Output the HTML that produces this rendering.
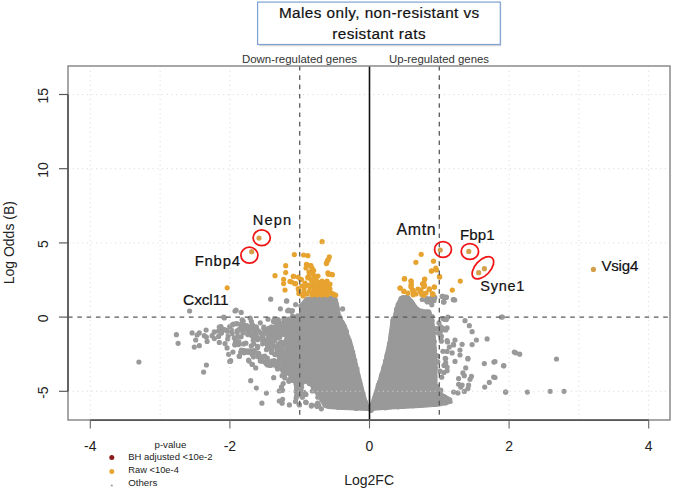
<!DOCTYPE html>
<html><head><meta charset="utf-8"><style>
html,body{margin:0;padding:0;background:#fff;}
body{width:675px;height:490px;overflow:hidden;}
svg{display:block;}
text{font-family:"Liberation Sans",sans-serif;}
</style></head><body>
<svg width="675" height="490" viewBox="0 0 675 490">
<path d="M299.5,305.0 L305.8,297.3 L320.0,296.6 L336.5,296.8 L338.9,305.8 L340.1,313.2 L342.6,319.3 L346.3,325.4 L348.7,334.0 L351.3,340.0 L353.8,349.8 L357.0,362.9 L360.3,375.9 L363.6,389.0 L366.6,400.4 L369.0,406.0 L369.3,410.5 L345.0,409.6 L327.7,408.5 L323.7,407.0 L318.8,398.0 L312.7,390.6 L309.0,383.3 L299.5,383.3 Z" fill="#999999" stroke="#999999" stroke-width="1" stroke-linejoin="round"/>
<path d="M397.4,301.6 L400.6,296.4 L408.3,295.0 L413.5,301.3 L417.2,306.5 L421.0,309.5 L428.0,310.0 L430.6,310.5 L431.7,314.0 L433.7,319.2 L435.8,342.0 L437.0,365.4 L437.0,384.2 L442.9,393.6 L451.1,398.3 L452.3,403.0 L439.3,406.1 L420.0,407.5 L392.5,408.9 L369.3,410.5 L369.6,406.0 L371.6,400.4 L373.3,395.1 L378.8,378.6 L384.3,359.3 L388.4,340.0 L391.2,319.2 L393.3,316.1 L394.9,308.9 Z" fill="#999999" stroke="#999999" stroke-width="1" stroke-linejoin="round"/>
<path d="M286.0,321.0 L294.0,318.0 L300.0,316.0 L300.0,383.0 L295.0,383.0 L288.0,375.0 L284.0,371.0 Z" fill="#999999" stroke="#999999" stroke-width="1" stroke-linejoin="round"/>
<g fill="#999999"><circle cx="250.2" cy="318.2" r="2.6"/><circle cx="295.4" cy="356.3" r="2.6"/><circle cx="297.9" cy="316.5" r="2.6"/><circle cx="237.5" cy="323.8" r="2.6"/><circle cx="268.2" cy="340.9" r="2.6"/><circle cx="273.5" cy="331.3" r="2.6"/><circle cx="278.6" cy="324.4" r="2.6"/><circle cx="279.3" cy="356.0" r="2.6"/><circle cx="264.3" cy="356.5" r="2.6"/><circle cx="284.3" cy="334.3" r="2.6"/><circle cx="252.6" cy="325.6" r="2.6"/><circle cx="288.7" cy="319.0" r="2.6"/><circle cx="263.8" cy="332.7" r="2.6"/><circle cx="295.9" cy="364.8" r="2.6"/><circle cx="266.3" cy="363.7" r="2.6"/><circle cx="291.2" cy="371.5" r="2.6"/><circle cx="282.2" cy="342.4" r="2.6"/><circle cx="288.9" cy="359.1" r="2.6"/><circle cx="299.4" cy="347.9" r="2.6"/><circle cx="295.7" cy="352.6" r="2.6"/><circle cx="288.0" cy="365.2" r="2.6"/><circle cx="298.7" cy="376.9" r="2.6"/><circle cx="284.0" cy="368.5" r="2.6"/><circle cx="257.6" cy="339.7" r="2.6"/><circle cx="298.9" cy="384.6" r="2.6"/><circle cx="231.4" cy="330.0" r="2.6"/><circle cx="291.2" cy="376.0" r="2.6"/><circle cx="292.1" cy="371.7" r="2.6"/><circle cx="297.5" cy="342.7" r="2.6"/><circle cx="295.3" cy="367.4" r="2.6"/><circle cx="283.0" cy="324.0" r="2.6"/><circle cx="298.3" cy="362.3" r="2.6"/><circle cx="260.3" cy="322.8" r="2.6"/><circle cx="297.4" cy="361.7" r="2.6"/><circle cx="294.2" cy="345.5" r="2.6"/><circle cx="284.7" cy="328.8" r="2.6"/><circle cx="234.8" cy="344.4" r="2.6"/><circle cx="292.1" cy="339.5" r="2.6"/><circle cx="256.1" cy="352.9" r="2.6"/><circle cx="282.3" cy="325.9" r="2.6"/><circle cx="275.8" cy="354.7" r="2.6"/><circle cx="292.3" cy="346.2" r="2.6"/><circle cx="251.8" cy="353.0" r="2.6"/><circle cx="294.9" cy="365.4" r="2.6"/><circle cx="294.9" cy="332.5" r="2.6"/><circle cx="295.0" cy="376.0" r="2.6"/><circle cx="218.4" cy="331.0" r="2.6"/><circle cx="290.9" cy="324.6" r="2.6"/><circle cx="297.1" cy="329.5" r="2.6"/><circle cx="285.3" cy="325.1" r="2.6"/><circle cx="257.4" cy="338.4" r="2.6"/><circle cx="298.7" cy="372.1" r="2.6"/><circle cx="221.2" cy="332.9" r="2.6"/><circle cx="280.6" cy="333.3" r="2.6"/><circle cx="284.1" cy="332.4" r="2.6"/><circle cx="292.9" cy="355.8" r="2.6"/><circle cx="272.6" cy="344.9" r="2.6"/><circle cx="294.6" cy="360.6" r="2.6"/><circle cx="293.5" cy="333.1" r="2.6"/><circle cx="258.4" cy="330.9" r="2.6"/><circle cx="278.8" cy="334.7" r="2.6"/><circle cx="227.7" cy="339.0" r="2.6"/><circle cx="276.5" cy="354.3" r="2.6"/><circle cx="298.5" cy="338.7" r="2.6"/><circle cx="274.2" cy="360.7" r="2.6"/><circle cx="277.2" cy="332.2" r="2.6"/><circle cx="288.6" cy="363.3" r="2.6"/><circle cx="297.6" cy="354.0" r="2.6"/><circle cx="297.0" cy="336.2" r="2.6"/><circle cx="253.8" cy="350.7" r="2.6"/><circle cx="289.4" cy="342.2" r="2.6"/><circle cx="298.7" cy="324.2" r="2.6"/><circle cx="283.5" cy="323.4" r="2.6"/><circle cx="272.1" cy="365.0" r="2.6"/><circle cx="261.2" cy="360.1" r="2.6"/><circle cx="271.9" cy="349.7" r="2.6"/><circle cx="282.2" cy="369.1" r="2.6"/><circle cx="297.9" cy="350.0" r="2.6"/><circle cx="279.5" cy="359.3" r="2.6"/><circle cx="277.4" cy="335.8" r="2.6"/><circle cx="272.9" cy="363.7" r="2.6"/><circle cx="257.5" cy="347.8" r="2.6"/><circle cx="297.2" cy="346.7" r="2.6"/><circle cx="295.8" cy="322.9" r="2.6"/><circle cx="251.7" cy="335.6" r="2.6"/><circle cx="285.8" cy="322.0" r="2.6"/><circle cx="299.9" cy="357.2" r="2.6"/><circle cx="249.7" cy="333.6" r="2.6"/><circle cx="289.8" cy="373.9" r="2.6"/><circle cx="268.7" cy="334.5" r="2.6"/><circle cx="293.6" cy="322.5" r="2.6"/><circle cx="297.9" cy="332.5" r="2.6"/><circle cx="246.7" cy="325.5" r="2.6"/><circle cx="299.7" cy="346.7" r="2.6"/><circle cx="242.1" cy="319.8" r="2.6"/><circle cx="290.1" cy="369.2" r="2.6"/><circle cx="248.4" cy="352.3" r="2.6"/><circle cx="253.6" cy="357.0" r="2.6"/><circle cx="297.6" cy="331.6" r="2.6"/><circle cx="275.5" cy="361.6" r="2.6"/><circle cx="252.2" cy="354.4" r="2.6"/><circle cx="280.8" cy="330.4" r="2.6"/><circle cx="268.8" cy="335.8" r="2.6"/><circle cx="273.5" cy="321.4" r="2.6"/><circle cx="258.2" cy="356.7" r="2.6"/><circle cx="253.8" cy="330.6" r="2.6"/><circle cx="296.5" cy="365.8" r="2.6"/><circle cx="271.4" cy="344.5" r="2.6"/><circle cx="277.0" cy="350.9" r="2.6"/><circle cx="297.3" cy="336.4" r="2.6"/><circle cx="255.6" cy="327.0" r="2.6"/><circle cx="295.5" cy="324.0" r="2.6"/><circle cx="291.0" cy="379.3" r="2.6"/><circle cx="299.8" cy="382.9" r="2.6"/><circle cx="270.5" cy="341.4" r="2.6"/><circle cx="241.2" cy="325.7" r="2.6"/><circle cx="284.3" cy="345.4" r="2.6"/><circle cx="283.4" cy="370.5" r="2.6"/><circle cx="293.0" cy="332.3" r="2.6"/><circle cx="291.1" cy="338.4" r="2.6"/><circle cx="296.3" cy="359.3" r="2.6"/><circle cx="275.1" cy="336.7" r="2.6"/><circle cx="292.6" cy="360.5" r="2.6"/><circle cx="296.2" cy="384.5" r="2.6"/><circle cx="293.7" cy="326.7" r="2.6"/><circle cx="280.0" cy="358.5" r="2.6"/><circle cx="274.5" cy="346.5" r="2.6"/><circle cx="286.5" cy="362.8" r="2.6"/><circle cx="286.0" cy="335.0" r="2.6"/><circle cx="262.9" cy="337.5" r="2.6"/><circle cx="299.3" cy="351.0" r="2.6"/><circle cx="283.1" cy="362.0" r="2.6"/><circle cx="292.5" cy="316.0" r="2.6"/><circle cx="295.2" cy="320.9" r="2.6"/><circle cx="266.6" cy="329.3" r="2.6"/><circle cx="264.7" cy="361.9" r="2.6"/><circle cx="271.7" cy="326.9" r="2.6"/><circle cx="260.4" cy="360.9" r="2.6"/><circle cx="248.1" cy="334.2" r="2.6"/><circle cx="295.9" cy="336.4" r="2.6"/><circle cx="299.7" cy="340.3" r="2.6"/><circle cx="276.1" cy="328.3" r="2.6"/><circle cx="291.3" cy="344.8" r="2.6"/><circle cx="252.6" cy="325.2" r="2.6"/><circle cx="244.6" cy="350.8" r="2.6"/><circle cx="293.4" cy="321.2" r="2.6"/><circle cx="297.8" cy="349.2" r="2.6"/><circle cx="293.5" cy="342.1" r="2.6"/><circle cx="285.0" cy="326.7" r="2.6"/><circle cx="247.2" cy="351.8" r="2.6"/><circle cx="260.4" cy="360.0" r="2.6"/><circle cx="251.3" cy="345.9" r="2.6"/><circle cx="266.5" cy="349.7" r="2.6"/><circle cx="252.3" cy="326.5" r="2.6"/><circle cx="268.0" cy="319.2" r="2.6"/><circle cx="280.4" cy="351.4" r="2.6"/><circle cx="299.7" cy="367.9" r="2.6"/><circle cx="292.6" cy="325.4" r="2.6"/><circle cx="293.9" cy="317.9" r="2.6"/><circle cx="278.5" cy="324.9" r="2.6"/><circle cx="293.0" cy="328.6" r="2.6"/><circle cx="256.5" cy="336.9" r="2.6"/><circle cx="298.6" cy="356.9" r="2.6"/><circle cx="243.2" cy="321.0" r="2.6"/><circle cx="263.8" cy="328.3" r="2.6"/><circle cx="233.4" cy="324.2" r="2.6"/><circle cx="280.8" cy="343.1" r="2.6"/><circle cx="261.5" cy="339.3" r="2.6"/><circle cx="276.5" cy="331.6" r="2.6"/><circle cx="247.7" cy="330.8" r="2.6"/><circle cx="283.6" cy="326.1" r="2.6"/><circle cx="290.3" cy="371.7" r="2.6"/><circle cx="277.6" cy="347.9" r="2.6"/><circle cx="251.8" cy="329.9" r="2.6"/><circle cx="274.6" cy="332.9" r="2.6"/><circle cx="296.9" cy="329.3" r="2.6"/><circle cx="277.7" cy="337.5" r="2.6"/><circle cx="267.5" cy="365.0" r="2.6"/><circle cx="298.2" cy="348.2" r="2.6"/><circle cx="262.2" cy="336.1" r="2.6"/><circle cx="242.3" cy="323.6" r="2.6"/><circle cx="221.4" cy="328.4" r="2.6"/><circle cx="283.5" cy="360.6" r="2.6"/><circle cx="267.6" cy="334.6" r="2.6"/><circle cx="275.0" cy="340.6" r="2.6"/><circle cx="296.8" cy="350.8" r="2.6"/><circle cx="267.3" cy="339.7" r="2.6"/><circle cx="291.3" cy="350.6" r="2.6"/><circle cx="289.8" cy="330.5" r="2.6"/><circle cx="278.3" cy="361.5" r="2.6"/><circle cx="280.1" cy="356.4" r="2.6"/><circle cx="240.7" cy="352.2" r="2.6"/><circle cx="298.6" cy="372.6" r="2.6"/><circle cx="281.6" cy="365.0" r="2.6"/><circle cx="267.6" cy="347.7" r="2.6"/><circle cx="291.9" cy="345.3" r="2.6"/><circle cx="277.9" cy="344.6" r="2.6"/><circle cx="280.1" cy="365.5" r="2.6"/><circle cx="271.8" cy="361.1" r="2.6"/><circle cx="280.8" cy="366.5" r="2.6"/><circle cx="266.7" cy="343.7" r="2.6"/><circle cx="293.9" cy="326.7" r="2.6"/><circle cx="280.5" cy="342.2" r="2.6"/><circle cx="297.8" cy="315.9" r="2.6"/><circle cx="294.8" cy="351.9" r="2.6"/><circle cx="285.0" cy="352.1" r="2.6"/><circle cx="295.4" cy="328.8" r="2.6"/><circle cx="236.1" cy="343.0" r="2.6"/><circle cx="243.0" cy="332.9" r="2.6"/><circle cx="246.5" cy="328.9" r="2.6"/><circle cx="267.8" cy="348.2" r="2.6"/><circle cx="235.5" cy="341.2" r="2.6"/><circle cx="249.5" cy="326.9" r="2.6"/><circle cx="275.5" cy="334.1" r="2.6"/><circle cx="268.1" cy="362.4" r="2.6"/><circle cx="293.7" cy="377.1" r="2.6"/><circle cx="281.0" cy="323.5" r="2.6"/><circle cx="269.7" cy="331.8" r="2.6"/><circle cx="281.7" cy="325.6" r="2.6"/><circle cx="260.8" cy="332.8" r="2.6"/><circle cx="286.0" cy="341.1" r="2.6"/><circle cx="296.5" cy="318.7" r="2.6"/><circle cx="279.8" cy="328.8" r="2.6"/><circle cx="247.5" cy="350.8" r="2.6"/><circle cx="241.1" cy="336.8" r="2.6"/><circle cx="289.9" cy="353.9" r="2.6"/><circle cx="292.1" cy="358.9" r="2.6"/><circle cx="220.9" cy="326.6" r="2.6"/><circle cx="281.2" cy="355.2" r="2.6"/><circle cx="238.6" cy="344.6" r="2.6"/><circle cx="294.2" cy="317.1" r="2.6"/><circle cx="283.3" cy="356.1" r="2.6"/><circle cx="253.8" cy="343.9" r="2.6"/><circle cx="268.7" cy="328.9" r="2.6"/><circle cx="275.3" cy="331.2" r="2.6"/><circle cx="280.1" cy="366.5" r="2.6"/><circle cx="276.2" cy="319.3" r="2.6"/><circle cx="283.9" cy="319.0" r="2.6"/><circle cx="276.2" cy="325.4" r="2.6"/><circle cx="267.4" cy="344.3" r="2.6"/><circle cx="281.0" cy="355.5" r="2.6"/><circle cx="298.0" cy="375.3" r="2.6"/><circle cx="283.1" cy="334.2" r="2.6"/><circle cx="283.0" cy="364.3" r="2.6"/><circle cx="282.2" cy="328.0" r="2.6"/><circle cx="294.0" cy="330.6" r="2.6"/><circle cx="271.6" cy="347.9" r="2.6"/><circle cx="281.7" cy="347.5" r="2.6"/><circle cx="283.0" cy="370.9" r="2.6"/><circle cx="289.9" cy="352.1" r="2.6"/><circle cx="263.9" cy="327.2" r="2.6"/><circle cx="247.4" cy="351.8" r="2.6"/><circle cx="281.3" cy="324.7" r="2.6"/><circle cx="242.4" cy="352.0" r="2.6"/><circle cx="288.2" cy="349.5" r="2.6"/><circle cx="296.8" cy="332.0" r="2.6"/><circle cx="229.7" cy="326.6" r="2.6"/><circle cx="288.6" cy="347.4" r="2.6"/><circle cx="292.1" cy="317.8" r="2.6"/><circle cx="270.9" cy="342.5" r="2.6"/><circle cx="299.3" cy="329.6" r="2.6"/><circle cx="291.6" cy="375.8" r="2.6"/><circle cx="281.2" cy="366.2" r="2.6"/><circle cx="298.7" cy="317.2" r="2.6"/><circle cx="271.6" cy="335.4" r="2.6"/><circle cx="278.7" cy="320.9" r="2.6"/><circle cx="226.8" cy="330.9" r="2.6"/><circle cx="275.1" cy="327.6" r="2.6"/><circle cx="293.6" cy="329.5" r="2.6"/><circle cx="286.1" cy="360.1" r="2.6"/><circle cx="224.6" cy="329.6" r="2.6"/><circle cx="274.8" cy="354.5" r="2.6"/><circle cx="288.6" cy="333.0" r="2.6"/><circle cx="270.8" cy="328.8" r="2.6"/><circle cx="237.2" cy="332.3" r="2.6"/><circle cx="299.8" cy="382.4" r="2.6"/><circle cx="242.0" cy="323.5" r="2.6"/><circle cx="285.2" cy="352.5" r="2.6"/><circle cx="274.6" cy="327.8" r="2.6"/><circle cx="255.6" cy="333.5" r="2.6"/><circle cx="283.4" cy="356.7" r="2.6"/><circle cx="288.1" cy="350.0" r="2.6"/><circle cx="292.1" cy="348.7" r="2.6"/><circle cx="244.3" cy="325.3" r="2.6"/><circle cx="257.7" cy="346.4" r="2.6"/><circle cx="296.0" cy="350.1" r="2.6"/><circle cx="258.7" cy="353.3" r="2.6"/><circle cx="297.1" cy="329.8" r="2.6"/><circle cx="273.5" cy="327.6" r="2.6"/><circle cx="264.7" cy="356.2" r="2.6"/><circle cx="256.1" cy="334.0" r="2.6"/><circle cx="287.8" cy="324.0" r="2.6"/><circle cx="277.7" cy="325.3" r="2.6"/><circle cx="294.5" cy="342.2" r="2.6"/><circle cx="285.9" cy="352.4" r="2.6"/><circle cx="294.8" cy="371.3" r="2.6"/><circle cx="298.3" cy="373.3" r="2.6"/><circle cx="296.3" cy="383.1" r="2.6"/><circle cx="244.1" cy="352.8" r="2.6"/><circle cx="250.1" cy="350.9" r="2.6"/><circle cx="289.8" cy="379.3" r="2.6"/><circle cx="268.5" cy="332.9" r="2.6"/><circle cx="293.3" cy="359.6" r="2.6"/><circle cx="296.1" cy="351.5" r="2.6"/><circle cx="253.0" cy="353.0" r="2.6"/><circle cx="247.8" cy="334.6" r="2.6"/><circle cx="285.9" cy="358.7" r="2.6"/><circle cx="269.2" cy="328.1" r="2.6"/><circle cx="253.3" cy="336.3" r="2.6"/><circle cx="287.8" cy="330.9" r="2.6"/><circle cx="288.7" cy="346.0" r="2.6"/><circle cx="277.0" cy="324.6" r="2.6"/><circle cx="284.3" cy="351.8" r="2.6"/><circle cx="288.8" cy="358.6" r="2.6"/><circle cx="286.8" cy="350.5" r="2.6"/><circle cx="228.2" cy="335.8" r="2.6"/><circle cx="262.6" cy="356.6" r="2.6"/><circle cx="293.0" cy="337.3" r="2.6"/><circle cx="271.5" cy="352.4" r="2.6"/><circle cx="296.9" cy="349.5" r="2.6"/><circle cx="284.7" cy="351.4" r="2.6"/><circle cx="290.7" cy="364.7" r="2.6"/><circle cx="299.1" cy="379.6" r="2.6"/><circle cx="256.4" cy="327.1" r="2.6"/><circle cx="267.4" cy="358.2" r="2.6"/><circle cx="299.4" cy="360.7" r="2.6"/><circle cx="286.1" cy="357.0" r="2.6"/><circle cx="262.6" cy="343.8" r="2.6"/><circle cx="284.4" cy="359.0" r="2.6"/><circle cx="279.8" cy="337.2" r="2.6"/><circle cx="243.1" cy="325.7" r="2.6"/><circle cx="263.2" cy="339.2" r="2.6"/><circle cx="290.4" cy="356.7" r="2.6"/><circle cx="293.9" cy="377.1" r="2.6"/><circle cx="291.1" cy="374.2" r="2.6"/><circle cx="245.9" cy="343.2" r="2.6"/><circle cx="242.9" cy="331.4" r="2.6"/><circle cx="237.0" cy="330.8" r="2.6"/><circle cx="270.5" cy="338.6" r="2.6"/><circle cx="274.1" cy="319.9" r="2.6"/><circle cx="285.5" cy="322.6" r="2.6"/><circle cx="285.6" cy="373.4" r="2.6"/><circle cx="256.4" cy="330.0" r="2.6"/><circle cx="263.7" cy="340.6" r="2.6"/><circle cx="262.0" cy="336.3" r="2.6"/><circle cx="243.8" cy="350.5" r="2.6"/><circle cx="287.8" cy="322.9" r="2.6"/><circle cx="270.4" cy="339.4" r="2.6"/><circle cx="270.0" cy="365.4" r="2.6"/><circle cx="286.5" cy="339.4" r="2.6"/><circle cx="276.6" cy="366.4" r="2.6"/><circle cx="238.7" cy="341.6" r="2.6"/><circle cx="285.4" cy="371.2" r="2.6"/><circle cx="278.0" cy="319.5" r="2.6"/><circle cx="284.9" cy="334.1" r="2.6"/><circle cx="295.3" cy="344.8" r="2.6"/><circle cx="285.0" cy="360.1" r="2.6"/><circle cx="282.9" cy="332.6" r="2.6"/><circle cx="297.3" cy="360.8" r="2.6"/><circle cx="243.5" cy="343.9" r="2.6"/><circle cx="271.0" cy="330.8" r="2.6"/><circle cx="285.1" cy="321.6" r="2.6"/><circle cx="243.7" cy="328.5" r="2.6"/><circle cx="251.4" cy="321.5" r="2.6"/><circle cx="253.2" cy="340.2" r="2.6"/></g>
<g fill="#999999"><circle cx="300.8" cy="305.8" r="2.6"/><circle cx="306.0" cy="301.8" r="2.6"/><circle cx="306.1" cy="301.5" r="2.6"/><circle cx="309.4" cy="299.8" r="2.6"/><circle cx="309.9" cy="299.6" r="2.6"/><circle cx="314.5" cy="298.8" r="2.6"/><circle cx="318.5" cy="298.2" r="2.6"/><circle cx="323.0" cy="299.4" r="2.6"/><circle cx="325.3" cy="300.0" r="2.6"/><circle cx="328.7" cy="298.7" r="2.6"/><circle cx="330.7" cy="298.5" r="2.6"/><circle cx="333.3" cy="299.8" r="2.6"/><circle cx="335.5" cy="301.1" r="2.6"/><circle cx="335.2" cy="302.9" r="2.6"/><circle cx="336.1" cy="309.5" r="2.6"/><circle cx="336.6" cy="310.6" r="2.6"/><circle cx="338.4" cy="316.9" r="2.6"/><circle cx="340.0" cy="318.0" r="2.6"/><circle cx="342.3" cy="322.9" r="2.6"/><circle cx="342.9" cy="324.8" r="2.6"/><circle cx="343.7" cy="327.8" r="2.6"/><circle cx="346.3" cy="331.2" r="2.6"/><circle cx="346.9" cy="336.8" r="2.6"/><circle cx="348.4" cy="340.6" r="2.6"/><circle cx="348.8" cy="343.8" r="2.6"/><circle cx="350.1" cy="345.5" r="2.6"/><circle cx="351.1" cy="347.6" r="2.6"/><circle cx="352.7" cy="352.1" r="2.6"/><circle cx="353.4" cy="355.8" r="2.6"/><circle cx="352.4" cy="358.6" r="2.6"/><circle cx="354.7" cy="360.3" r="2.6"/><circle cx="355.5" cy="364.8" r="2.6"/><circle cx="357.0" cy="368.9" r="2.6"/><circle cx="356.2" cy="372.9" r="2.6"/><circle cx="357.8" cy="375.8" r="2.6"/><circle cx="357.8" cy="377.5" r="2.6"/><circle cx="359.3" cy="381.4" r="2.6"/><circle cx="359.9" cy="384.1" r="2.6"/><circle cx="360.3" cy="388.7" r="2.6"/><circle cx="362.7" cy="392.9" r="2.6"/><circle cx="362.6" cy="394.5" r="2.6"/><circle cx="364.0" cy="399.3" r="2.6"/><circle cx="365.5" cy="402.2" r="2.6"/><circle cx="366.7" cy="407.6" r="2.6"/><circle cx="366.1" cy="407.1" r="2.6"/><circle cx="363.0" cy="406.8" r="2.6"/><circle cx="359.1" cy="407.4" r="2.6"/><circle cx="356.1" cy="408.4" r="2.6"/><circle cx="353.2" cy="407.2" r="2.6"/><circle cx="351.0" cy="407.2" r="2.6"/><circle cx="345.3" cy="407.1" r="2.6"/><circle cx="342.9" cy="407.4" r="2.6"/><circle cx="340.6" cy="406.0" r="2.6"/><circle cx="338.1" cy="407.3" r="2.6"/><circle cx="332.4" cy="406.4" r="2.6"/><circle cx="331.0" cy="405.9" r="2.6"/><circle cx="327.1" cy="405.4" r="2.6"/><circle cx="325.3" cy="404.5" r="2.6"/><circle cx="323.2" cy="401.2" r="2.6"/><circle cx="321.9" cy="399.8" r="2.6"/><circle cx="318.1" cy="393.1" r="2.6"/><circle cx="317.9" cy="391.8" r="2.6"/><circle cx="313.7" cy="388.9" r="2.6"/><circle cx="311.7" cy="384.1" r="2.6"/><circle cx="306.7" cy="380.7" r="2.6"/><circle cx="303.2" cy="380.7" r="2.6"/><circle cx="302.0" cy="382.9" r="2.6"/><circle cx="301.2" cy="378.1" r="2.6"/><circle cx="301.1" cy="375.4" r="2.6"/><circle cx="302.7" cy="372.1" r="2.6"/><circle cx="302.4" cy="368.5" r="2.6"/><circle cx="301.2" cy="364.5" r="2.6"/><circle cx="302.4" cy="360.5" r="2.6"/><circle cx="302.7" cy="360.1" r="2.6"/><circle cx="301.3" cy="355.9" r="2.6"/><circle cx="302.1" cy="350.8" r="2.6"/><circle cx="301.3" cy="348.1" r="2.6"/><circle cx="301.1" cy="344.9" r="2.6"/><circle cx="301.7" cy="343.4" r="2.6"/><circle cx="302.2" cy="340.8" r="2.6"/><circle cx="301.6" cy="336.9" r="2.6"/><circle cx="301.9" cy="332.1" r="2.6"/><circle cx="302.2" cy="328.2" r="2.6"/><circle cx="302.1" cy="325.0" r="2.6"/><circle cx="302.7" cy="321.6" r="2.6"/><circle cx="302.5" cy="320.8" r="2.6"/><circle cx="302.5" cy="316.9" r="2.6"/><circle cx="302.7" cy="312.6" r="2.6"/><circle cx="301.7" cy="311.1" r="2.6"/><circle cx="302.9" cy="305.9" r="2.6"/></g>
<g fill="#999999"><circle cx="401.1" cy="298.7" r="2.6"/><circle cx="403.2" cy="297.6" r="2.6"/><circle cx="407.1" cy="298.4" r="2.6"/><circle cx="406.0" cy="297.5" r="2.6"/><circle cx="411.1" cy="301.6" r="2.6"/><circle cx="412.3" cy="303.7" r="2.6"/><circle cx="418.7" cy="311.1" r="2.6"/><circle cx="421.3" cy="311.1" r="2.6"/><circle cx="424.7" cy="312.9" r="2.6"/><circle cx="428.3" cy="311.9" r="2.6"/><circle cx="429.6" cy="316.5" r="2.6"/><circle cx="432.0" cy="320.6" r="2.6"/><circle cx="431.7" cy="325.5" r="2.6"/><circle cx="431.4" cy="328.2" r="2.6"/><circle cx="433.4" cy="332.2" r="2.6"/><circle cx="433.2" cy="333.5" r="2.6"/><circle cx="432.1" cy="337.4" r="2.6"/><circle cx="434.2" cy="341.5" r="2.6"/><circle cx="432.7" cy="342.8" r="2.6"/><circle cx="433.8" cy="347.7" r="2.6"/><circle cx="434.4" cy="350.4" r="2.6"/><circle cx="434.2" cy="355.0" r="2.6"/><circle cx="433.9" cy="358.4" r="2.6"/><circle cx="434.5" cy="359.1" r="2.6"/><circle cx="433.6" cy="362.9" r="2.6"/><circle cx="435.4" cy="367.6" r="2.6"/><circle cx="434.8" cy="369.8" r="2.6"/><circle cx="434.3" cy="374.7" r="2.6"/><circle cx="434.8" cy="378.1" r="2.6"/><circle cx="434.3" cy="380.5" r="2.6"/><circle cx="436.4" cy="386.1" r="2.6"/><circle cx="436.9" cy="390.6" r="2.6"/><circle cx="439.5" cy="391.6" r="2.6"/><circle cx="444.6" cy="397.0" r="2.6"/><circle cx="446.9" cy="398.8" r="2.6"/><circle cx="448.9" cy="400.2" r="2.6"/><circle cx="449.8" cy="400.1" r="2.6"/><circle cx="445.5" cy="403.0" r="2.6"/><circle cx="443.3" cy="402.0" r="2.6"/><circle cx="439.0" cy="403.0" r="2.6"/><circle cx="437.1" cy="403.5" r="2.6"/><circle cx="434.8" cy="404.4" r="2.6"/><circle cx="430.1" cy="403.5" r="2.6"/><circle cx="426.4" cy="404.2" r="2.6"/><circle cx="425.2" cy="404.1" r="2.6"/><circle cx="420.7" cy="404.9" r="2.6"/><circle cx="417.7" cy="405.4" r="2.6"/><circle cx="414.6" cy="405.5" r="2.6"/><circle cx="412.8" cy="405.7" r="2.6"/><circle cx="408.4" cy="404.6" r="2.6"/><circle cx="404.5" cy="406.1" r="2.6"/><circle cx="401.9" cy="406.5" r="2.6"/><circle cx="398.1" cy="406.8" r="2.6"/><circle cx="395.7" cy="405.5" r="2.6"/><circle cx="390.8" cy="406.6" r="2.6"/><circle cx="387.2" cy="407.2" r="2.6"/><circle cx="385.2" cy="407.8" r="2.6"/><circle cx="381.4" cy="407.5" r="2.6"/><circle cx="376.7" cy="407.4" r="2.6"/><circle cx="372.7" cy="408.1" r="2.6"/><circle cx="369.4" cy="407.8" r="2.6"/><circle cx="371.2" cy="410.3" r="2.6"/><circle cx="374.0" cy="403.9" r="2.6"/><circle cx="375.1" cy="399.4" r="2.6"/><circle cx="376.8" cy="394.7" r="2.6"/><circle cx="376.8" cy="392.4" r="2.6"/><circle cx="378.4" cy="386.2" r="2.6"/><circle cx="378.4" cy="384.8" r="2.6"/><circle cx="379.8" cy="382.0" r="2.6"/><circle cx="381.3" cy="376.9" r="2.6"/><circle cx="381.9" cy="374.6" r="2.6"/><circle cx="384.3" cy="371.1" r="2.6"/><circle cx="384.0" cy="367.4" r="2.6"/><circle cx="386.4" cy="364.3" r="2.6"/><circle cx="385.5" cy="361.0" r="2.6"/><circle cx="388.0" cy="357.4" r="2.6"/><circle cx="387.0" cy="355.4" r="2.6"/><circle cx="388.3" cy="352.8" r="2.6"/><circle cx="389.7" cy="347.4" r="2.6"/><circle cx="389.5" cy="343.9" r="2.6"/><circle cx="390.9" cy="342.8" r="2.6"/><circle cx="391.0" cy="338.1" r="2.6"/><circle cx="391.3" cy="334.5" r="2.6"/><circle cx="391.7" cy="333.2" r="2.6"/><circle cx="392.5" cy="329.8" r="2.6"/><circle cx="392.9" cy="325.3" r="2.6"/><circle cx="393.0" cy="320.9" r="2.6"/><circle cx="393.4" cy="318.6" r="2.6"/><circle cx="396.6" cy="313.3" r="2.6"/><circle cx="396.5" cy="309.3" r="2.6"/><circle cx="398.5" cy="307.6" r="2.6"/><circle cx="398.2" cy="304.6" r="2.6"/></g>
<g fill="#999999"><circle cx="432.2" cy="316.6" r="2.6"/><circle cx="441.4" cy="341.2" r="2.6"/><circle cx="437.5" cy="355.8" r="2.6"/><circle cx="437.8" cy="361.8" r="2.6"/><circle cx="438.4" cy="333.1" r="2.6"/><circle cx="440.4" cy="326.7" r="2.6"/><circle cx="440.0" cy="371.2" r="2.6"/><circle cx="440.9" cy="331.2" r="2.6"/><circle cx="440.8" cy="390.0" r="2.6"/><circle cx="436.3" cy="328.5" r="2.6"/><circle cx="437.3" cy="386.8" r="2.6"/><circle cx="431.8" cy="304.8" r="2.6"/><circle cx="436.7" cy="361.7" r="2.6"/><circle cx="440.8" cy="335.9" r="2.6"/></g>
<g fill="#999999"><circle cx="293.0" cy="380.4" r="2.6"/><circle cx="297.1" cy="381.9" r="2.6"/><circle cx="317.1" cy="406.4" r="2.6"/><circle cx="299.6" cy="384.3" r="2.6"/><circle cx="300.9" cy="390.3" r="2.6"/><circle cx="299.9" cy="382.7" r="2.6"/><circle cx="317.8" cy="397.2" r="2.6"/><circle cx="299.4" cy="394.8" r="2.6"/><circle cx="317.6" cy="403.2" r="2.6"/><circle cx="301.6" cy="386.9" r="2.6"/><circle cx="312.3" cy="391.0" r="2.6"/><circle cx="311.7" cy="405.1" r="2.6"/><circle cx="321.4" cy="408.8" r="2.6"/><circle cx="295.3" cy="381.6" r="2.6"/><circle cx="316.4" cy="405.1" r="2.6"/><circle cx="309.2" cy="383.6" r="2.6"/><circle cx="306.6" cy="379.5" r="2.6"/><circle cx="296.6" cy="390.1" r="2.6"/><circle cx="304.0" cy="392.4" r="2.6"/><circle cx="301.3" cy="381.8" r="2.6"/><circle cx="301.0" cy="378.3" r="2.6"/><circle cx="305.9" cy="394.4" r="2.6"/></g>
<g fill="#999999"><circle cx="431.3" cy="300.3" r="2.6"/><circle cx="429.2" cy="299.7" r="2.6"/><circle cx="431.4" cy="301.9" r="2.6"/><circle cx="434.1" cy="300.6" r="2.6"/><circle cx="427.0" cy="298.6" r="2.6"/><circle cx="427.3" cy="301.9" r="2.6"/></g>
<g fill="#999999">
<circle cx="138.9" cy="362.0" r="2.6"/>
<circle cx="176.4" cy="334.7" r="2.6"/>
<circle cx="178.1" cy="343.3" r="2.6"/>
<circle cx="189.6" cy="311.0" r="2.6"/>
<circle cx="206.4" cy="365.0" r="2.6"/>
<circle cx="203.6" cy="372.1" r="2.6"/>
<circle cx="192.1" cy="332.9" r="2.6"/>
<circle cx="195.7" cy="340.0" r="2.6"/>
<circle cx="194.3" cy="347.1" r="2.6"/>
<circle cx="199.3" cy="345.7" r="2.6"/>
<circle cx="199.3" cy="332.9" r="2.6"/>
<circle cx="197.1" cy="335.0" r="2.6"/>
<circle cx="206.1" cy="330.0" r="2.6"/>
<circle cx="206.4" cy="337.1" r="2.6"/>
<circle cx="207.1" cy="341.4" r="2.6"/>
<circle cx="204.3" cy="335.7" r="2.6"/>
<circle cx="214.3" cy="331.9" r="2.6"/>
<circle cx="212.1" cy="335.7" r="2.6"/>
<circle cx="214.3" cy="338.6" r="2.6"/>
<circle cx="219.3" cy="327.1" r="2.6"/>
<circle cx="221.4" cy="332.9" r="2.6"/>
<circle cx="218.6" cy="336.4" r="2.6"/>
<circle cx="219.3" cy="342.4" r="2.6"/>
<circle cx="225.0" cy="343.6" r="2.6"/>
<circle cx="227.1" cy="347.9" r="2.6"/>
<circle cx="228.6" cy="354.3" r="2.6"/>
<circle cx="230.0" cy="361.4" r="2.6"/>
<circle cx="232.9" cy="352.1" r="2.6"/>
<circle cx="239.3" cy="356.1" r="2.6"/>
<circle cx="241.4" cy="350.0" r="2.6"/>
<circle cx="232.1" cy="325.0" r="2.6"/>
<circle cx="227.9" cy="330.7" r="2.6"/>
<circle cx="232.1" cy="333.6" r="2.6"/>
<circle cx="234.3" cy="337.9" r="2.6"/>
<circle cx="235.0" cy="345.0" r="2.6"/>
<circle cx="236.4" cy="323.6" r="2.6"/>
<circle cx="239.3" cy="329.3" r="2.6"/>
<circle cx="237.9" cy="336.4" r="2.6"/>
<circle cx="235.0" cy="311.0" r="2.6"/>
<circle cx="224.3" cy="317.9" r="2.6"/>
<circle cx="223.7" cy="317.0" r="2.6"/>
<circle cx="230.0" cy="361.4" r="2.6"/>
<circle cx="270.7" cy="299.2" r="2.6"/>
<circle cx="286.4" cy="301.0" r="2.6"/>
<circle cx="280.4" cy="308.8" r="2.6"/>
<circle cx="287.7" cy="310.8" r="2.6"/>
<circle cx="291.1" cy="311.3" r="2.6"/>
<circle cx="295.6" cy="304.6" r="2.6"/>
<circle cx="241.2" cy="312.4" r="2.6"/>
<circle cx="236.1" cy="310.2" r="2.6"/>
<circle cx="286.8" cy="300.9" r="2.6"/>
<circle cx="288.7" cy="310.1" r="2.6"/>
<circle cx="292.4" cy="310.7" r="2.6"/>
<circle cx="239.3" cy="356.4" r="2.6"/>
<circle cx="230.7" cy="360.7" r="2.6"/>
<circle cx="250.7" cy="380.7" r="2.6"/>
<circle cx="255.7" cy="367.9" r="2.6"/>
<circle cx="252.1" cy="364.3" r="2.6"/>
<circle cx="262.1" cy="360.7" r="2.6"/>
<circle cx="248.6" cy="360.0" r="2.6"/>
<circle cx="249.0" cy="361.1" r="2.6"/>
<circle cx="252.3" cy="364.5" r="2.6"/>
<circle cx="261.9" cy="361.1" r="2.6"/>
<circle cx="269.7" cy="364.5" r="2.6"/>
<circle cx="273.7" cy="362.2" r="2.6"/>
<circle cx="277.6" cy="369.0" r="2.6"/>
<circle cx="256.3" cy="388.0" r="2.6"/>
<circle cx="266.4" cy="393.1" r="2.6"/>
<circle cx="261.9" cy="403.2" r="2.6"/>
<circle cx="273.7" cy="377.7" r="2.6"/>
<circle cx="282.1" cy="375.7" r="2.6"/>
<circle cx="284.9" cy="378.0" r="2.6"/>
<circle cx="288.8" cy="381.3" r="2.6"/>
<circle cx="283.2" cy="383.6" r="2.6"/>
<circle cx="281.5" cy="386.9" r="2.6"/>
<circle cx="279.3" cy="390.9" r="2.6"/>
<circle cx="282.6" cy="390.3" r="2.6"/>
<circle cx="279.3" cy="401.0" r="2.6"/>
<circle cx="282.6" cy="399.3" r="2.6"/>
<circle cx="282.1" cy="403.2" r="2.6"/>
<circle cx="289.4" cy="404.9" r="2.6"/>
<circle cx="296.1" cy="391.4" r="2.6"/>
<circle cx="296.1" cy="398.1" r="2.6"/>
<circle cx="295.5" cy="401.5" r="2.6"/>
<circle cx="299.5" cy="404.9" r="2.6"/>
<circle cx="302.3" cy="397.0" r="2.6"/>
<circle cx="306.2" cy="402.6" r="2.6"/>
<circle cx="311.3" cy="406.1" r="2.6"/>
<circle cx="318.7" cy="405.3" r="2.6"/>
<circle cx="305.6" cy="402.0" r="2.6"/>
<circle cx="299.1" cy="404.5" r="2.6"/>
<circle cx="302.3" cy="397.1" r="2.6"/>
<circle cx="296.6" cy="395.5" r="2.6"/>
<circle cx="296.6" cy="387.3" r="2.6"/>
<circle cx="342.6" cy="308.9" r="2.6"/>
<circle cx="422.3" cy="299.5" r="2.6"/>
<circle cx="426.5" cy="300.6" r="2.6"/>
<circle cx="430.6" cy="298.5" r="2.6"/>
<circle cx="434.8" cy="297.4" r="2.6"/>
<circle cx="443.0" cy="296.4" r="2.6"/>
<circle cx="446.2" cy="297.4" r="2.6"/>
<circle cx="443.6" cy="301.6" r="2.6"/>
<circle cx="453.4" cy="299.5" r="2.6"/>
<circle cx="442.1" cy="296.4" r="2.6"/>
<circle cx="446.4" cy="297.1" r="2.6"/>
<circle cx="443.6" cy="302.1" r="2.6"/>
<circle cx="454.7" cy="300.0" r="2.6"/>
<circle cx="444.0" cy="302.0" r="2.6"/>
<circle cx="453.4" cy="299.7" r="2.6"/>
<circle cx="444.3" cy="319.3" r="2.6"/>
<circle cx="447.9" cy="317.1" r="2.6"/>
<circle cx="442.9" cy="318.5" r="2.6"/>
<circle cx="446.4" cy="319.6" r="2.6"/>
<circle cx="445.2" cy="329.0" r="2.6"/>
<circle cx="447.6" cy="342.0" r="2.6"/>
<circle cx="453.4" cy="344.3" r="2.6"/>
<circle cx="442.9" cy="351.3" r="2.6"/>
<circle cx="445.2" cy="358.4" r="2.6"/>
<circle cx="444.0" cy="365.4" r="2.6"/>
<circle cx="444.0" cy="372.5" r="2.6"/>
<circle cx="441.7" cy="377.2" r="2.6"/>
<circle cx="465.0" cy="320.7" r="2.6"/>
<circle cx="469.3" cy="325.7" r="2.6"/>
<circle cx="472.1" cy="331.7" r="2.6"/>
<circle cx="501.4" cy="317.1" r="2.6"/>
<circle cx="439.0" cy="322.9" r="2.6"/>
<circle cx="442.1" cy="327.9" r="2.6"/>
<circle cx="447.1" cy="327.9" r="2.6"/>
<circle cx="445.7" cy="330.0" r="2.6"/>
<circle cx="441.4" cy="336.4" r="2.6"/>
<circle cx="447.1" cy="340.7" r="2.6"/>
<circle cx="455.0" cy="340.0" r="2.6"/>
<circle cx="453.6" cy="345.0" r="2.6"/>
<circle cx="476.4" cy="340.0" r="2.6"/>
<circle cx="487.1" cy="338.9" r="2.6"/>
<circle cx="472.1" cy="344.6" r="2.6"/>
<circle cx="462.1" cy="344.3" r="2.6"/>
<circle cx="460.0" cy="350.0" r="2.6"/>
<circle cx="449.3" cy="347.1" r="2.6"/>
<circle cx="447.1" cy="351.4" r="2.6"/>
<circle cx="452.1" cy="352.9" r="2.6"/>
<circle cx="460.0" cy="355.0" r="2.6"/>
<circle cx="467.9" cy="358.3" r="2.6"/>
<circle cx="514.3" cy="352.1" r="2.6"/>
<circle cx="467.9" cy="359.0" r="2.6"/>
<circle cx="455.0" cy="361.4" r="2.6"/>
<circle cx="445.7" cy="358.6" r="2.6"/>
<circle cx="445.7" cy="362.9" r="2.6"/>
<circle cx="447.1" cy="367.1" r="2.6"/>
<circle cx="447.1" cy="370.7" r="2.6"/>
<circle cx="484.3" cy="363.6" r="2.6"/>
<circle cx="493.9" cy="362.1" r="2.6"/>
<circle cx="503.6" cy="365.7" r="2.6"/>
<circle cx="465.7" cy="367.9" r="2.6"/>
<circle cx="462.9" cy="372.9" r="2.6"/>
<circle cx="464.3" cy="375.7" r="2.6"/>
<circle cx="471.4" cy="376.4" r="2.6"/>
<circle cx="470.0" cy="379.3" r="2.6"/>
<circle cx="493.6" cy="377.1" r="2.6"/>
<circle cx="489.3" cy="382.4" r="2.6"/>
<circle cx="484.7" cy="387.1" r="2.6"/>
<circle cx="458.6" cy="378.6" r="2.6"/>
<circle cx="458.6" cy="384.3" r="2.6"/>
<circle cx="462.1" cy="385.0" r="2.6"/>
<circle cx="460.7" cy="387.1" r="2.6"/>
<circle cx="468.6" cy="385.0" r="2.6"/>
<circle cx="467.9" cy="388.6" r="2.6"/>
<circle cx="464.3" cy="391.4" r="2.6"/>
<circle cx="453.6" cy="392.1" r="2.6"/>
<circle cx="457.9" cy="392.9" r="2.6"/>
<circle cx="505.7" cy="392.1" r="2.6"/>
<circle cx="502.4" cy="317.0" r="2.6"/>
<circle cx="515.7" cy="352.8" r="2.6"/>
<circle cx="519.7" cy="354.2" r="2.6"/>
<circle cx="556.5" cy="359.0" r="2.6"/>
<circle cx="503.8" cy="365.8" r="2.6"/>
<circle cx="495.0" cy="361.6" r="2.6"/>
<circle cx="495.0" cy="377.5" r="2.6"/>
<circle cx="505.6" cy="392.1" r="2.6"/>
<circle cx="527.4" cy="392.1" r="2.6"/>
<circle cx="550.2" cy="391.3" r="2.6"/>
<circle cx="564.0" cy="391.3" r="2.6"/>
</g>
<path d="M319.0,282.0 L324.0,280.5 L329.0,282.0 L331.0,286.0 L331.0,291.0 L333.0,295.0 L312.0,296.0 L310.0,292.0 L315.0,287.0 Z" fill="#e7a32f" stroke="#e7a32f" stroke-width="1" stroke-linejoin="round"/>
<g fill="#e7a32f">
<circle cx="322.1" cy="241.7" r="2.6"/>
<circle cx="294.3" cy="254.6" r="2.6"/>
<circle cx="303.6" cy="255.0" r="2.6"/>
<circle cx="307.9" cy="255.7" r="2.6"/>
<circle cx="329.3" cy="256.9" r="2.6"/>
<circle cx="327.9" cy="260.0" r="2.6"/>
<circle cx="326.4" cy="263.6" r="2.6"/>
<circle cx="306.4" cy="264.3" r="2.6"/>
<circle cx="310.7" cy="265.7" r="2.6"/>
<circle cx="285.7" cy="265.7" r="2.6"/>
<circle cx="312.9" cy="270.0" r="2.6"/>
<circle cx="285.7" cy="272.6" r="2.6"/>
<circle cx="275.0" cy="275.7" r="2.6"/>
<circle cx="327.9" cy="272.9" r="2.6"/>
<circle cx="331.4" cy="274.3" r="2.6"/>
<circle cx="293.6" cy="276.4" r="2.6"/>
<circle cx="307.9" cy="277.1" r="2.6"/>
<circle cx="315.0" cy="276.4" r="2.6"/>
<circle cx="300.7" cy="279.3" r="2.6"/>
<circle cx="283.6" cy="279.3" r="2.6"/>
<circle cx="283.6" cy="283.6" r="2.6"/>
<circle cx="290.0" cy="281.4" r="2.6"/>
<circle cx="295.7" cy="283.6" r="2.6"/>
<circle cx="285.0" cy="290.0" r="2.6"/>
<circle cx="298.6" cy="290.0" r="2.6"/>
<circle cx="299.3" cy="293.6" r="2.6"/>
<circle cx="333.6" cy="294.3" r="2.6"/>
<circle cx="307.1" cy="264.9" r="2.6"/>
<circle cx="310.8" cy="265.7" r="2.6"/>
<circle cx="312.0" cy="268.2" r="2.6"/>
<circle cx="313.7" cy="270.6" r="2.6"/>
<circle cx="326.7" cy="262.4" r="2.6"/>
<circle cx="328.0" cy="260.0" r="2.6"/>
<circle cx="328.4" cy="274.3" r="2.6"/>
<circle cx="332.4" cy="274.7" r="2.6"/>
<circle cx="293.3" cy="276.3" r="2.6"/>
<circle cx="298.2" cy="277.1" r="2.6"/>
<circle cx="301.4" cy="279.6" r="2.6"/>
<circle cx="308.8" cy="276.3" r="2.6"/>
<circle cx="314.5" cy="276.3" r="2.6"/>
<circle cx="311.2" cy="279.6" r="2.6"/>
<circle cx="291.6" cy="282.0" r="2.6"/>
<circle cx="294.9" cy="283.7" r="2.6"/>
<circle cx="305.5" cy="286.1" r="2.6"/>
<circle cx="313.7" cy="283.7" r="2.6"/>
<circle cx="298.2" cy="288.6" r="2.6"/>
<circle cx="299.0" cy="293.5" r="2.6"/>
<circle cx="303.9" cy="292.7" r="2.6"/>
<circle cx="309.6" cy="291.0" r="2.6"/>
<circle cx="332.4" cy="293.5" r="2.6"/>
<circle cx="335.7" cy="295.1" r="2.6"/>
<circle cx="318.0" cy="282.0" r="2.6"/>
<circle cx="322.0" cy="281.0" r="2.6"/>
<circle cx="327.0" cy="281.0" r="2.6"/>
<circle cx="330.0" cy="284.0" r="2.6"/>
<circle cx="320.0" cy="286.0" r="2.6"/>
<circle cx="325.0" cy="286.0" r="2.6"/>
<circle cx="330.0" cy="289.0" r="2.6"/>
<circle cx="318.0" cy="290.0" r="2.6"/>
<circle cx="322.0" cy="291.0" r="2.6"/>
<circle cx="327.0" cy="292.0" r="2.6"/>
<circle cx="315.0" cy="288.0" r="2.6"/>
<circle cx="310.0" cy="287.0" r="2.6"/>
<circle cx="307.0" cy="294.0" r="2.6"/>
<circle cx="312.0" cy="295.0" r="2.6"/>
<circle cx="317.0" cy="295.0" r="2.6"/>
<circle cx="322.0" cy="295.0" r="2.6"/>
<circle cx="327.0" cy="295.0" r="2.6"/>
<circle cx="330.0" cy="293.0" r="2.6"/>
<circle cx="303.0" cy="296.0" r="2.6"/>
<circle cx="227.2" cy="287.8" r="2.6"/>
<circle cx="308.0" cy="278.0" r="2.6"/>
<circle cx="312.0" cy="281.0" r="2.6"/>
<circle cx="316.0" cy="279.0" r="2.6"/>
<circle cx="318.0" cy="284.0" r="2.6"/>
<circle cx="314.0" cy="287.0" r="2.6"/>
<circle cx="309.0" cy="285.0" r="2.6"/>
<circle cx="305.0" cy="283.0" r="2.6"/>
<circle cx="306.0" cy="268.0" r="2.6"/>
<circle cx="309.0" cy="272.0" r="2.6"/>
<circle cx="313.0" cy="274.0" r="2.6"/>
<circle cx="318.0" cy="276.0" r="2.6"/>
<circle cx="302.0" cy="286.0" r="2.6"/>
<circle cx="304.0" cy="290.0" r="2.6"/>
<circle cx="421.2" cy="254.3" r="2.6"/>
<circle cx="415.9" cy="262.3" r="2.6"/>
<circle cx="433.5" cy="261.2" r="2.6"/>
<circle cx="435.8" cy="268.1" r="2.6"/>
<circle cx="431.8" cy="270.8" r="2.6"/>
<circle cx="439.7" cy="276.9" r="2.6"/>
<circle cx="404.6" cy="278.7" r="2.6"/>
<circle cx="411.2" cy="281.1" r="2.6"/>
<circle cx="424.7" cy="279.1" r="2.6"/>
<circle cx="460.3" cy="281.1" r="2.6"/>
<circle cx="411.2" cy="285.1" r="2.6"/>
<circle cx="422.5" cy="283.8" r="2.6"/>
<circle cx="423.8" cy="286.4" r="2.6"/>
<circle cx="400.0" cy="288.0" r="2.6"/>
<circle cx="403.9" cy="291.1" r="2.6"/>
<circle cx="413.2" cy="290.4" r="2.6"/>
<circle cx="413.9" cy="293.7" r="2.6"/>
<circle cx="420.5" cy="291.7" r="2.6"/>
<circle cx="421.8" cy="294.4" r="2.6"/>
<circle cx="429.1" cy="289.7" r="2.6"/>
<circle cx="434.4" cy="287.1" r="2.6"/>
<circle cx="433.1" cy="294.4" r="2.6"/>
<circle cx="452.3" cy="290.1" r="2.6"/>
<circle cx="416.0" cy="294.0" r="2.6"/>
<circle cx="426.0" cy="293.0" r="2.6"/>
<circle cx="408.0" cy="293.0" r="2.6"/>
<circle cx="418.0" cy="289.0" r="2.6"/>
<circle cx="404.3" cy="278.9" r="2.6"/>
<circle cx="410.9" cy="281.1" r="2.6"/>
<circle cx="411.3" cy="284.1" r="2.6"/>
<circle cx="410.9" cy="286.7" r="2.6"/>
<circle cx="412.4" cy="289.6" r="2.6"/>
<circle cx="413.5" cy="292.6" r="2.6"/>
<circle cx="413.1" cy="294.8" r="2.6"/>
<circle cx="400.2" cy="288.1" r="2.6"/>
<circle cx="403.9" cy="291.5" r="2.6"/>
<circle cx="424.6" cy="279.3" r="2.6"/>
<circle cx="423.9" cy="283.0" r="2.6"/>
<circle cx="424.6" cy="285.6" r="2.6"/>
<circle cx="420.9" cy="290.0" r="2.6"/>
<circle cx="422.4" cy="293.7" r="2.6"/>
<circle cx="423.9" cy="295.2" r="2.6"/>
<circle cx="429.4" cy="288.9" r="2.6"/>
<circle cx="434.3" cy="287.0" r="2.6"/>
<circle cx="432.4" cy="293.7" r="2.6"/>
<circle cx="431.3" cy="271.1" r="2.6"/>
<circle cx="436.5" cy="270.0" r="2.6"/>
<circle cx="439.4" cy="276.7" r="2.6"/>
</g>
<g fill="#d5a04c">
<circle cx="259.0" cy="238.1" r="2.6"/>
<circle cx="251.7" cy="251.7" r="2.6"/>
<circle cx="440.3" cy="250.0" r="2.6"/>
<circle cx="468.8" cy="251.4" r="2.6"/>
<circle cx="478.7" cy="272.7" r="2.6"/>
<circle cx="484.4" cy="268.7" r="2.6"/>
<circle cx="593.4" cy="269.4" r="2.6"/>
</g>
<g stroke="#d6d6d6" stroke-width="0.9" stroke-dasharray="1.1 3.6" fill="none">
<line x1="90.3" y1="66" x2="90.3" y2="420"/>
<line x1="160.1" y1="66" x2="160.1" y2="420"/>
<line x1="229.9" y1="66" x2="229.9" y2="420"/>
<line x1="509.1" y1="66" x2="509.1" y2="420"/>
<line x1="578.9" y1="66" x2="578.9" y2="420"/>
<line x1="648.7" y1="66" x2="648.7" y2="420"/>
<line x1="68" y1="94.5" x2="670" y2="94.5"/>
<line x1="68" y1="168.7" x2="670" y2="168.7"/>
<line x1="68" y1="242.9" x2="670" y2="242.9"/>
<line x1="68" y1="391.3" x2="670" y2="391.3"/>
</g>
<g stroke="#5a5a5a" stroke-width="1.3" stroke-dasharray="4.6 4.7" fill="none">
<line x1="68" y1="317.1" x2="670" y2="317.1"/>
<line x1="299.7" y1="66" x2="299.7" y2="420"/>
<line x1="439.3" y1="66" x2="439.3" y2="420"/>
</g>
<line x1="369.5" y1="66" x2="369.5" y2="420" stroke="#111" stroke-width="1.6"/>
<rect x="68" y="66" width="602" height="354" fill="none" stroke="#8a8a8a" stroke-width="1.5"/>
<g stroke="#3a3a3a" stroke-width="1.25" fill="none">
<line x1="68" y1="94.5" x2="68" y2="391.3"/>
<line x1="59" y1="94.5" x2="68" y2="94.5" stroke="#555" stroke-width="1.15"/>
<line x1="59" y1="168.7" x2="68" y2="168.7" stroke="#555" stroke-width="1.15"/>
<line x1="59" y1="242.9" x2="68" y2="242.9" stroke="#555" stroke-width="1.15"/>
<line x1="59" y1="317.1" x2="68" y2="317.1" stroke="#555" stroke-width="1.15"/>
<line x1="59" y1="391.3" x2="68" y2="391.3" stroke="#555" stroke-width="1.15"/>
<line x1="90.3" y1="420" x2="648.7" y2="420"/>
<line x1="90.3" y1="420" x2="90.3" y2="428.5" stroke="#666" stroke-width="1.1"/>
<line x1="229.9" y1="420" x2="229.9" y2="428.5" stroke="#666" stroke-width="1.1"/>
<line x1="369.5" y1="420" x2="369.5" y2="428.5" stroke="#666" stroke-width="1.1"/>
<line x1="509.1" y1="420" x2="509.1" y2="428.5" stroke="#666" stroke-width="1.1"/>
<line x1="648.7" y1="420" x2="648.7" y2="428.5" stroke="#666" stroke-width="1.1"/>
</g>
<g font-size="14" fill="#222" text-anchor="middle">
<text transform="translate(47.8,95.8) rotate(-90)" x="0" y="0">15</text>
<text transform="translate(47.8,170.0) rotate(-90)" x="0" y="0">10</text>
<text transform="translate(47.8,244.2) rotate(-90)" x="0" y="0">5</text>
<text transform="translate(47.8,318.4) rotate(-90)" x="0" y="0">0</text>
<text transform="translate(47.8,392.6) rotate(-90)" x="0" y="0">-5</text>
<text x="90.3" y="450.8">-4</text>
<text x="229.9" y="450.8">-2</text>
<text x="369.5" y="450.8">0</text>
<text x="509.1" y="450.8">2</text>
<text x="648.7" y="450.8">4</text>
<text x="369.1" y="485.2">Log2FC</text>
<text transform="translate(13.6,242.7) rotate(-90)" x="0" y="0">Log Odds (B)</text>
</g>
<rect x="259" y="4" width="242.3" height="42.3" fill="#b8b8b8" opacity="0.5"/>
<rect x="257.6" y="2.1" width="242.7" height="42.4" fill="#fff" stroke="#7fa1d2" stroke-width="1.2"/>
<text x="379.3" y="18.4" font-size="15.3" letter-spacing="0.44" text-anchor="middle" fill="#111" stroke="#111" stroke-width="0.2">Males only, non-resistant vs</text>
<text x="379.1" y="39.2" font-size="15.3" letter-spacing="0.45" text-anchor="middle" fill="#111" stroke="#111" stroke-width="0.2">resistant rats</text>
<text x="299.5" y="62.8" font-size="11.45" text-anchor="middle" fill="#333">Down-regulated genes</text>
<text x="439" y="62.8" font-size="11.4" text-anchor="middle" fill="#333">Up-regulated genes</text>
<g fill="#111" stroke="#111" stroke-width="0.2">
<text x="252.7" y="225.3" font-size="14.64" letter-spacing="1.167">Nepn</text>
<text x="194.7" y="266.3" font-size="14.93" letter-spacing="0.75">Fnbp4</text>
<text x="183.1" y="305.2" font-size="15.51" letter-spacing="-0.14">Cxcl11</text>
<text x="396.5" y="234.9" font-size="15.94" letter-spacing="0.633">Amtn</text>
<text x="459.9" y="240.3" font-size="15.07" letter-spacing="0.133">Fbp1</text>
<text x="480.3" y="291.3" font-size="14.49" letter-spacing="0.75">Syne1</text>
<text x="601.4" y="271.2" font-size="15.07" letter-spacing="-0.175">Vsig4</text>
</g>
<g fill="none" stroke="#f01414" stroke-width="1.75">
<ellipse cx="261.7" cy="237.8" rx="8.6" ry="7.85"/>
<ellipse cx="249.4" cy="255.2" rx="8.5" ry="8.0"/>
<ellipse cx="443" cy="249.5" rx="8.45" ry="7.85"/>
<ellipse cx="469.9" cy="251.5" rx="8.65" ry="7.9"/>
<ellipse cx="482.9" cy="267.8" rx="13.5" ry="7.6" transform="rotate(-47 482.9 267.8)"/>
</g>
<g font-size="9.4" fill="#222">
<text x="154.5" y="447.8" font-size="9.7">p-value</text>
<text x="128.2" y="459.9" font-size="9.5">BH adjusted &lt;10e-2</text>
<text x="128.2" y="472.6" font-size="9.35">Raw &lt;10e-4</text>
<text x="128.2" y="485.5" font-size="9.7">Others</text>
</g>
<circle cx="111.8" cy="457.4" r="2.5" fill="#8b1a1a"/>
<circle cx="111.8" cy="471.4" r="2.5" fill="#e6a535"/>
<circle cx="111.8" cy="485.5" r="1.1" fill="#999"/>
</svg></body></html>
